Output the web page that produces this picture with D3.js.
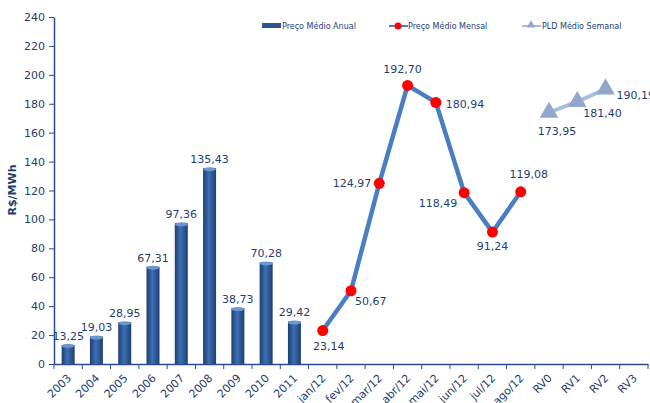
<!DOCTYPE html>
<html lang="pt">
<head>
<meta charset="utf-8">
<title>Preço médio</title>
<script src="https://cdn.jsdelivr.net/npm/d3@7"></script>
<style>
  body { margin: 0; background: #fff; }
  text { font-family: Verdana, "DejaVu Sans", sans-serif; fill: #1F3D6E; }
</style>
</head>
<body>
<script>
var w = 650, h = 403;

var categories = ["2003","2004","2005","2006","2007","2008","2009","2010","2011",
  "jan/12","fev/12","mar/12","abr/12","mai/12","jun/12","jul/12","ago/12",
  "RV0","RV1","RV2","RV3"];
var anual = [13.25, 19.03, 28.95, 67.31, 97.36, 135.43, 38.73, 70.28, 29.42];
var anualCats = categories.slice(0, 9);
var mensal = [23.14, 50.67, 124.97, 192.70, 180.94, 118.49, 91.24, 119.08];
var mensalCats = categories.slice(9, 17);
var semanal = [173.95, 181.40, 190.19];
var semanalCats = categories.slice(17, 20);
var yTicks = [0,20,40,60,80,100,120,140,160,180,200,220,240];

// label placement for the monthly / weekly values: [dx, dy, anchor]
var mensalPos = [[6,19,"middle"],[4,14,"start"],[-8,4,"end"],[-5,-12,"middle"],
  [10,6,"start"],[-7,14,"end"],[0,18,"middle"],[8,-14,"middle"]];
var semanalPos = [[8,23,"middle"],[6,15,"start"],[11,10,"start"]];

var fmt = function(v) { return v.toFixed(2).replace(".", ","); };

var svg = d3.select("body").append("svg").attr("width", w).attr("height", h);

var defs = svg.append("defs");
var g1 = defs.append("linearGradient").attr("id", "barGrad")
  .attr("x1", "0").attr("x2", "1").attr("y1", "0").attr("y2", "0");
g1.append("stop").attr("offset", "0%").attr("stop-color", "#1C3F73");
g1.append("stop").attr("offset", "45%").attr("stop-color", "#3E6FB2");
g1.append("stop").attr("offset", "100%").attr("stop-color", "#1C3F73");

var x = d3.scaleBand().domain(categories).range([54, 648]);
var y = d3.scaleLinear().domain([0, 240]).range([364, 17]);

// axes
var yAxis = svg.append("g").attr("transform", "translate(54,0)")
  .call(d3.axisLeft(y).tickValues(yTicks).tickSize(5).tickSizeOuter(0));
yAxis.selectAll("text").attr("font-size", "11px").attr("dx", "-1");

var xAxis = svg.append("g").attr("transform", "translate(0,364)")
  .call(d3.axisBottom(x).tickSize(0).tickSizeOuter(0));
xAxis.selectAll(".tick line").remove();
xAxis.selectAll(".tick text")
  .attr("font-size", "11px")
  .attr("text-anchor", "end")
  .attr("transform", "translate(1,12) rotate(-45)")
  .attr("dy", "0.35em")
  .attr("y", 0);
// tick marks on category boundaries
xAxis.selectAll("line.bound").data(categories.concat(["end"])).enter()
  .append("line").attr("class", "bound")
  .attr("x1", function(d, i) { return 54 + i * x.step(); })
  .attr("x2", function(d, i) { return 54 + i * x.step(); })
  .attr("y1", 0).attr("y2", 5)
  .attr("stroke", "#2B4C8C");
svg.selectAll(".domain").attr("stroke", "#2B4C8C").attr("stroke-width", 1.5);
svg.selectAll(".tick line").attr("stroke", "#2B4C8C");

svg.append("text").text("R$/MWh")
  .attr("transform", "translate(16,190) rotate(-90)")
  .attr("text-anchor", "middle").attr("font-size", "11px").attr("font-weight", "bold");

// bars
var bw = 13;
var bars = svg.append("g");
bars.selectAll("rect").data(anual).enter().append("rect")
  .attr("x", function(d, i) { return x(anualCats[i]) + x.bandwidth() / 2 - bw / 2; })
  .attr("y", function(d) { return y(d); })
  .attr("width", bw)
  .attr("height", function(d) { return y(0) - y(d); })
  .attr("fill", "url(#barGrad)");
bars.selectAll("ellipse").data(anual).enter().append("ellipse")
  .attr("cx", function(d, i) { return x(anualCats[i]) + x.bandwidth() / 2; })
  .attr("cy", function(d) { return y(d) + 1; })
  .attr("rx", bw / 2).attr("ry", 2)
  .attr("fill", "#6A97D4");
bars.selectAll("text").data(anual).enter().append("text")
  .attr("x", function(d, i) { return x(anualCats[i]) + x.bandwidth() / 2; })
  .attr("y", function(d) { return y(d) - 5; })
  .attr("text-anchor", "middle").attr("font-size", "11px")
  .text(fmt);

// monthly line
var cx = function(c) { return x(c) + x.bandwidth() / 2; };
var line = d3.line()
  .x(function(d, i) { return cx(mensalCats[i]); })
  .y(function(d) { return y(d); });
svg.append("path").datum(mensal).attr("d", line)
  .attr("fill", "none").attr("stroke", "#4A7EC0").attr("stroke-width", 4.5)
  .attr("stroke-linejoin", "round");
svg.selectAll("circle.m").data(mensal).enter().append("circle").attr("class", "m")
  .attr("cx", function(d, i) { return cx(mensalCats[i]); })
  .attr("cy", function(d) { return y(d); })
  .attr("r", 5.5).attr("fill", "#FF0000");
svg.selectAll("text.m").data(mensal).enter().append("text").attr("class", "m")
  .attr("x", function(d, i) { return cx(mensalCats[i]) + mensalPos[i][0]; })
  .attr("y", function(d, i) { return y(d) + mensalPos[i][1]; })
  .attr("text-anchor", function(d, i) { return mensalPos[i][2]; })
  .attr("font-size", "11px").text(fmt);

// weekly line
var line2 = d3.line()
  .x(function(d, i) { return cx(semanalCats[i]); })
  .y(function(d) { return y(d); });
svg.append("path").datum(semanal).attr("d", line2)
  .attr("fill", "none").attr("stroke", "#A9BCDF").attr("stroke-width", 4);
var tri = d3.symbol().type(d3.symbolTriangle).size(150);
svg.selectAll("path.s").data(semanal).enter().append("path").attr("class", "s")
  .attr("d", tri)
  .attr("transform", function(d, i) { return "translate(" + cx(semanalCats[i]) + "," + y(d) + ")"; })
  .attr("fill", "#93A6CB");
svg.selectAll("text.s").data(semanal).enter().append("text").attr("class", "s")
  .attr("x", function(d, i) { return cx(semanalCats[i]) + semanalPos[i][0]; })
  .attr("y", function(d, i) { return y(d) + semanalPos[i][1]; })
  .attr("text-anchor", function(d, i) { return semanalPos[i][2]; })
  .attr("font-size", "11px").text(fmt);

// legend
var lg = svg.append("g").attr("font-size", "8px");
lg.append("rect").attr("x", 262).attr("y", 23).attr("width", 19).attr("height", 5).attr("fill", "#2A5390");
lg.append("text").attr("x", 282).attr("y", 29).attr("font-size", "8px").text("Preço Médio Anual");
lg.append("line").attr("x1", 389).attr("x2", 408).attr("y1", 26).attr("y2", 26)
  .attr("stroke", "#4A7EC0").attr("stroke-width", 2);
lg.append("circle").attr("cx", 398).attr("cy", 26).attr("r", 3.5).attr("fill", "#FF0000");
lg.append("text").attr("x", 408).attr("y", 29).attr("font-size", "8px").text("Preço Médio Mensal");
lg.append("line").attr("x1", 522).attr("x2", 541).attr("y1", 26).attr("y2", 26)
  .attr("stroke", "#A9BCDF").attr("stroke-width", 2);
lg.append("path").attr("d", d3.symbol().type(d3.symbolTriangle).size(30))
  .attr("transform", "translate(531,25)").attr("fill", "#93A6CB");
lg.append("text").attr("x", 542).attr("y", 29).attr("font-size", "8px").text("PLD Médio Semanal");
</script>
</body>
</html>
